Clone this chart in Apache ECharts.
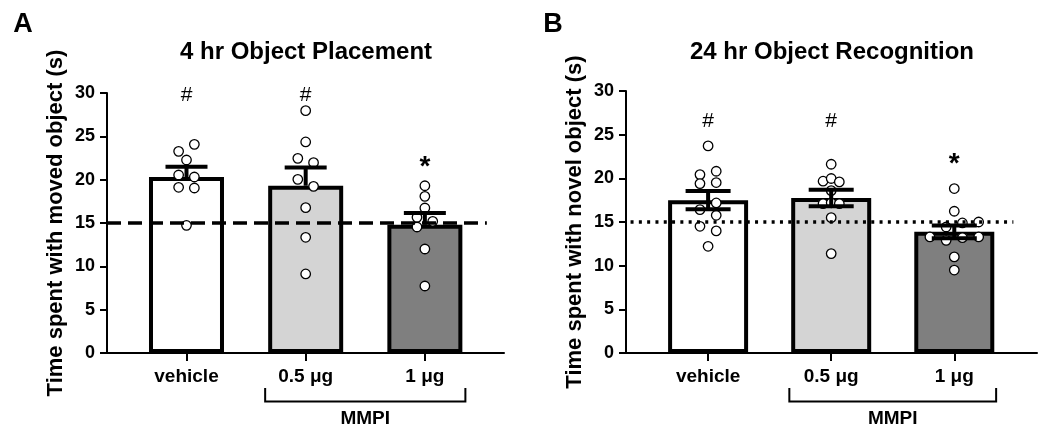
<!DOCTYPE html>
<html><head><meta charset="utf-8">
<script src="https://cdn.jsdelivr.net/npm/echarts@6/dist/echarts.min.js"></script>
<style>html,body{margin:0;padding:0;background:#fff}#c{width:1050px;height:439px}</style>
</head><body><div id="c"></div>
<script>
// ---------- data ----------
const categories = ['vehicle', '0.5 μg', '1 μg'];
const barColors = ['#ffffff', '#d4d4d4', '#7f7f7f'];
const yTicks = [0, 5, 10, 15, 20, 25, 30];
const chanceLevel = 15;

// Panel A: 4 hr Object Placement
const titleA = '4 hr Object Placement';
const yNameA = 'Time spent with moved object (s)';
const meansA = [20.3, 19.3, 14.8];
const semA = [1.2, 2.1, 1.35];
// [value, jitter column]
const dotsA_vehicle = [[23.27,-1],[24.08,1],[22.27,0],[20.54,-1],[20.31,1],[19.12,-1],[19.04,1],[14.73,0]];
const dotsA_05 = [[27.96,0],[24.35,0],[22.46,-1],[21.96,1],[20.04,-1],[19.23,1],[16.77,0],[13.35,0],[9.12,0]];
const dotsA_1 = [[19.3,0],[18.08,0],[16.73,0],[15.65,-1],[15.19,1],[14.54,-1],[12.0,0],[7.73,0]];
const marksA = ['#', '#', '*'];
const markLevelA = [29.8, 29.8, 21.4];

// Panel B: 24 hr Object Recognition
const titleB = '24 hr Object Recognition';
const yNameB = 'Time spent with novel object (s)';
const meansB = [17.5, 17.75, 13.87];
const semB = [1.05, 0.95, 0.72];
const dotsB_vehicle = [[23.71,0],[20.43,-1],[20.81,1],[19.4,-1],[19.52,1],[17.18,1],[16.42,-1],[15.77,1],[14.51,-1],[13.98,1],[12.22,0]];
const dotsB_05 = [[21.61,0],[19.67,-1],[19.98,0],[19.59,1],[18.6,0],[17.1,-1],[17.2,0],[17.1,1],[15.5,0],[11.38,0]];
const dotsB_1 = [[18.83,0],[16.23,0],[14.43,-1],[14.89,1],[15.0,3],[13.29,-3],[12.9,-1],[13.2,1],[13.29,3],[11.0,0],[9.5,0]];
const marksB = ['#', '#', '*'];
const markLevelB = [26.5, 26.5, 21.6];

const groupLabel = 'MMPI';
const groupMembers = [1, 2];

// ---------- chart ----------
const FONT = "'Liberation Sans', Arial, Helvetica, sans-serif";
const JIT = 0.066;
const chart = echarts.init(document.getElementById('c'), null, {renderer: 'canvas'});

function panel(gi, cfg) {
  const xAxis = {
    gridIndex: gi, type: 'value', min: -0.667, max: cfg.xmax,
    axisLine: {show: true, onZero: false, lineStyle: {color: '#000', width: 2}},
    axisTick: {show: true, customValues: [0,1,2], length: 8, lineStyle: {color: '#000', width: 2}},
    axisLabel: {show: true, customValues: [0,1,2], margin: 14,
      formatter: v => categories[Math.round(v)], color: '#000',
      fontFamily: FONT, fontWeight: 'bold', fontSize: 19},
    splitLine: {show: false}
  };
  const yAxis = {
    gridIndex: gi, type: 'value', min: 0, max: 30, interval: 5,
    name: cfg.yName, nameLocation: 'middle', nameGap: 40,
    nameTextStyle: {color: '#000', fontFamily: FONT, fontWeight: 'bold', fontSize: 22},
    axisLine: {show: true, onZero: false, lineStyle: {color: '#000', width: 2}},
    axisTick: {show: true, length: 7, lineStyle: {color: '#000', width: 2}},
    axisLabel: {margin: 12, color: '#000', fontFamily: FONT, fontWeight: 'bold', fontSize: 18,
      formatter: v => (yTicks.indexOf(v) >= 0 ? String(v) : '')},
    splitLine: {show: false}
  };
  const series = [];
  series.push({
    type: 'bar', xAxisIndex: gi, yAxisIndex: gi, barWidth: cfg.barWidth, z: 2,
    data: cfg.means.map((m, i) => ({value: [i, m], itemStyle: {color: barColors[i], borderColor: '#000', borderWidth: 4}})),
    silent: true, animation: false
  });
  const dots = [];
  cfg.dots.forEach((arr, i) => arr.forEach(d => dots.push([i + d[1] * JIT, d[0]])));
  series.push({
    type: 'scatter', xAxisIndex: gi, yAxisIndex: gi, z: 3, symbol: 'circle', symbolSize: 9.5,
    itemStyle: {color: '#fff', borderColor: '#000', borderWidth: 1.3, opacity: 1},
    data: dots, silent: true, animation: false
  });
  series.push({
    type: 'custom', xAxisIndex: gi, yAxisIndex: gi, z: 4, clip: false, silent: true, animation: false,
    data: cfg.means.map((m, i) => [i, m, cfg.sem[i]]),
    renderItem: (p, api) => {
      const x = api.value(0), m = api.value(1), s = api.value(2);
      const up = api.coord([x, m + s]);
      const lo = api.coord([x, cfg.lower ? m - s : m]);
      const hw = cfg.capW / 2;
      const st = {stroke: '#000', lineWidth: 4};
      const ch = [
        {type: 'line', shape: {x1: up[0], y1: lo[1], x2: up[0], y2: up[1]}, style: st},
        {type: 'line', shape: {x1: up[0] - hw, y1: up[1], x2: up[0] + hw, y2: up[1]}, style: st}
      ];
      if (cfg.lower) ch.push({type: 'line', shape: {x1: up[0] - hw, y1: lo[1], x2: up[0] + hw, y2: lo[1]}, style: st});
      return {type: 'group', children: ch};
    },
    markLine: {
      silent: true, symbol: 'none', animation: false, z: 6,
      lineStyle: cfg.refStyle, label: {show: false},
      data: [[{coord: [cfg.refStart, chanceLevel]}, {coord: [cfg.refEnd, chanceLevel]}]]
    }
  });
  // significance marks
  series.push({
    type: 'custom', xAxisIndex: gi, yAxisIndex: gi, z: 5, clip: false, silent: true, animation: false,
    data: cfg.marks.map((t, i) => [i, cfg.markLevel[i]]),
    renderItem: (p, api) => {
      const c = api.coord([api.value(0), api.value(1)]);
      const t = cfg.marks[p.dataIndex];
      return {type: 'text', x: c[0], y: c[1], style: {text: t, align: 'center', verticalAlign: 'middle',
        fill: '#000', fontFamily: FONT, fontSize: t === '*' ? 28 : 21, fontWeight: t === '*' ? 'bold' : 'normal'}};
    }
  });
  // group bracket
  series.push({
    type: 'custom', xAxisIndex: gi, yAxisIndex: gi, z: 5, clip: false, silent: true, animation: false,
    data: [[groupMembers[0], groupMembers[1]]],
    renderItem: (p, api) => {
      const a = api.coord([api.value(0) - 0.34, 0]);
      const b = api.coord([api.value(1) + 0.34, 0]);
      const y0 = a[1];
      return {type: 'group', children: [
        {type: 'polyline', shape: {points: [[a[0], y0 + 35], [a[0], y0 + 48.5], [b[0], y0 + 48.5], [b[0], y0 + 35]]},
          style: {stroke: '#000', lineWidth: 2, fill: null}},
        {type: 'text', x: (a[0] + b[0]) / 2, y: y0 + 66, style: {text: groupLabel, align: 'center', verticalAlign: 'middle',
          fill: '#000', fontFamily: FONT, fontSize: 19, fontWeight: 'bold'}}
      ]};
    }
  });
  return {xAxis, yAxis, series};
}

const A = panel(0, {yName: yNameA, means: meansA, sem: semA, dots: [dotsA_vehicle, dotsA_05, dotsA_1],
  marks: marksA, markLevel: markLevelA, barWidth: 75, capW: 42, lower: false, xmax: 2.664,
  refStart: -0.667, refEnd: 2.52, refStyle: {color: '#000', width: 3.5, type: [14, 7]}});
const B = panel(1, {yName: yNameB, means: meansB, sem: semB, dots: [dotsB_vehicle, dotsB_05, dotsB_1],
  marks: marksB, markLevel: markLevelB, barWidth: 80, capW: 45, lower: true, xmax: 2.672,
  refStart: -0.63, refEnd: 2.48, refStyle: {color: '#000', width: 3.5, type: [3, 5.3]}});

const txt = (s, x, y, size) => ({type: 'text', x, y, style: {text: s, align: 'center', verticalAlign: 'middle',
  fill: '#000', fontFamily: FONT, fontSize: size, fontWeight: 'bold'}});

chart.setOption({
  animation: false,
  backgroundColor: '#fff',
  grid: [
    {left: 107, top: 93, width: 397, height: 260, containLabel: false},
    {left: 626, top: 91, width: 411, height: 262, containLabel: false}
  ],
  xAxis: [A.xAxis, B.xAxis],
  yAxis: [A.yAxis, B.yAxis],
  series: A.series.concat(B.series),
  graphic: [
    txt('A', 23, 25, 27),
    txt('B', 553, 25, 27),
    txt(titleA, 306, 52, 24),
    txt(titleB, 832, 52, 24)
  ]
});
</script></body></html>
